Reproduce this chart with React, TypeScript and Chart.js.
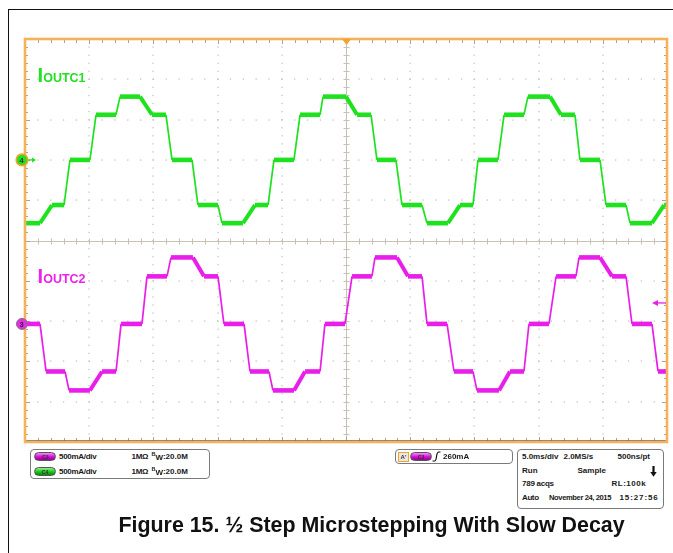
import React, { useEffect, useRef } from "react";
import { Chart, registerables } from "chart.js";

Chart.register(...registerables);

// ---------------- data ----------------
const timeTicksMs = [-25, -20, -15, -10, -5, 0, 5, 10, 15, 20, 25]; // 5.0 ms/div
const divTicks = [-5, -4, -3, -2, -1, 0, 1, 2, 3, 4, 5];
const minorPerDiv = 5;
const mAPerDiv = 500;
const c4PositionDiv = 2.0; // IOUTC1 ground marker "4"
const c3PositionDiv = -2.07; // IOUTC2 ground marker "3"
const triggerLevelmA = 260;

// IOUTC1 (C4, green) corner points
const c4TimeMs = [
  -25.0, -23.83, -22.9, -21.96, -21.5, -19.94, -19.47, -17.91, -17.6, -16.04,
  -15.11, -14.02, -13.55, -11.99, -11.53, -9.97, -9.66, -8.02, -7.09, -6.07,
  -5.61, -4.05, -3.58, -2.02, -1.79, 0.0, 0.86, 1.95, 2.41, 3.89,
  4.36, 5.92, 6.31, 7.94, 8.88, 9.89, 10.28, 11.84, 12.31, 13.86,
  14.17, 15.89, 16.74, 17.83, 18.22, 19.78, 20.25, 21.81, 22.12, 23.83,
  24.77, 25.0,
];
const c4CurrentmA = [
  -785, -785, -560, -560, 0, 0, 560, 560, 785, 785,
  560, 560, 0, 0, -560, -560, -785, -785, -560, -560,
  0, 0, 560, 560, 785, 785, 560, 560, 0, 0,
  -560, -560, -785, -785, -560, -560, 0, 0, 560, 560,
  785, 785, 560, 560, 0, 0, -560, -560, -785, -785,
  -560, -560,
];

// IOUTC2 (C3, magenta) corner points
const c3TimeMs = [
  -25.0, -23.83, -23.36, -21.88, -21.57, -19.94, -19.0, -17.91, -17.52, -15.89,
  -15.5, -13.94, -13.63, -11.92, -11.06, -9.97, -9.51, -7.94, -7.48, -6.0,
  -5.69, -4.05, -3.19, -2.02, -1.64, -0.08, 0.47, 2.02, 2.26, 3.97,
  4.83, 5.92, 6.31, 7.87, 8.41, 9.89, 10.2, 11.92, 12.77, 13.86,
  14.25, 15.81, 16.36, 17.91, 18.15, 19.78, 20.72, 21.81, 22.27, 23.83,
  24.3, 25.0,
];
const c3CurrentmA = [
  0, 0, -590, -590, -825, -825, -590, -590, 0, 0,
  590, 590, 825, 825, 590, 590, 0, 0, -590, -590,
  -825, -825, -590, -590, 0, 0, 590, 590, 825, 825,
  590, 590, 0, 0, -590, -590, -825, -825, -590, -590,
  0, 0, 590, 590, 825, 825, 590, 590, 0, 0,
  -590, -590,
];

// ---------------- layout / style ----------------
const W = 673;
const H = 553;
const PLOT_L = 25;
const PLOT_T = 39;
const PLOT_R = 667;
const PLOT_B = 442;
const FONT = '"Liberation Sans", Arial, Helvetica, sans-serif';
const GREEN = "#1fe21f";
const MAGENTA = "#ea1eea";

const yPix = (div: number) =>
  PLOT_T + ((5 - div) * (PLOT_B - PLOT_T)) / 10;

function line(ctx: CanvasRenderingContext2D, x1: number, y1: number, x2: number, y2: number) {
  ctx.beginPath();
  ctx.moveTo(x1, y1);
  ctx.lineTo(x2, y2);
  ctx.stroke();
}

const scopePlugin = {
  id: "scopeGraticule",
  beforeDatasetsDraw(chart: any) {
    const { ctx, chartArea: a, scales } = chart;
    const xs = scales.x;
    const ys = scales.y;
    const xMinor = (timeTicksMs[1] - timeTicksMs[0]) / minorPerDiv;
    const yMinor = (divTicks[1] - divTicks[0]) / minorPerDiv;
    const xMinorVals: number[] = [];
    for (let i = 0; i <= (timeTicksMs.length - 1) * minorPerDiv; i++)
      xMinorVals.push(timeTicksMs[0] + i * xMinor);
    const yMinorVals: number[] = [];
    for (let i = 0; i <= (divTicks.length - 1) * minorPerDiv; i++)
      yMinorVals.push(divTicks[0] + i * yMinor);

    ctx.save();
    // dotted grid
    ctx.fillStyle = "#c4c4c4";
    timeTicksMs.slice(1, -1).forEach((t) => {
      if (t === 0) return;
      const px = Math.round(xs.getPixelForValue(t));
      yMinorVals.forEach((v) => {
        const py = ys.getPixelForValue(v);
        ctx.fillRect(px - 0.6, py - 0.6, 1.3, 1.3);
      });
    });
    divTicks.slice(1, -1).forEach((d) => {
      if (d === 0) return;
      const py = Math.round(ys.getPixelForValue(d));
      xMinorVals.forEach((t) => {
        const px = xs.getPixelForValue(t);
        ctx.fillRect(px - 0.6, py - 0.6, 1.3, 1.3);
      });
    });

    // centre cross with minor ticks
    const cx = Math.round(xs.getPixelForValue(0)) + 0.5;
    const cy = Math.round(ys.getPixelForValue(0)) + 0.5;
    ctx.strokeStyle = "#c9c1b2";
    ctx.lineWidth = 1;
    line(ctx, cx, a.top, cx, a.bottom);
    line(ctx, a.left, cy, a.right, cy);
    yMinorVals.forEach((v) => {
      const py = Math.round(ys.getPixelForValue(v)) + 0.5;
      line(ctx, cx - 3, py, cx + 3, py);
    });
    xMinorVals.forEach((t) => {
      const px = Math.round(xs.getPixelForValue(t)) + 0.5;
      line(ctx, px, cy - 3, px, cy + 3);
    });

    // border ticks
    ctx.strokeStyle = "#aaa395";
    xMinorVals.forEach((t, i) => {
      const px = Math.round(xs.getPixelForValue(t)) + 0.5;
      const len = i % minorPerDiv === 0 ? 5 : 4;
      line(ctx, px, a.top, px, a.top + len);
      line(ctx, px, a.bottom, px, a.bottom - len);
    });
    yMinorVals.forEach((v, i) => {
      const py = Math.round(ys.getPixelForValue(v)) + 0.5;
      const len = i % minorPerDiv === 0 ? 5 : 3;
      line(ctx, a.left, py, a.left + len, py);
      line(ctx, a.right, py, a.right - len, py);
    });
    ctx.restore();
  },
  afterDatasetsDraw(chart: any) {
    const { ctx, chartArea: a, scales } = chart;
    const xs = scales.x;
    const ys = scales.y;
    ctx.save();
    // dark bottom line + orange frame
    ctx.strokeStyle = "#4a4a4a";
    ctx.lineWidth = 1.2;
    line(ctx, a.left, a.bottom - 1.2, a.right, a.bottom - 1.2);
    ctx.strokeStyle = "#f6b25a";
    ctx.lineWidth = 2.6;
    ctx.strokeRect(a.left, a.top, a.right - a.left, a.bottom - a.top);

    // trigger position marker
    const tx = xs.getPixelForValue(0) + 0.5;
    ctx.fillStyle = "#f5a22a";
    ctx.beginPath();
    ctx.moveTo(tx - 4.5, a.top);
    ctx.lineTo(tx + 4.5, a.top);
    ctx.lineTo(tx, a.top + 6);
    ctx.closePath();
    ctx.fill();

    // ground markers
    const gy4 = ys.getPixelForValue(c4PositionDiv);
    ctx.strokeStyle = GREEN;
    ctx.fillStyle = GREEN;
    ctx.lineWidth = 1.3;
    line(ctx, 27, gy4, 33, gy4);
    ctx.beginPath();
    ctx.moveTo(36, gy4);
    ctx.lineTo(32, gy4 - 2.5);
    ctx.lineTo(32, gy4 + 2.5);
    ctx.closePath();
    ctx.fill();
    ctx.beginPath();
    ctx.arc(22, gy4, 5.8, 0, Math.PI * 2);
    ctx.fillStyle = "#22e022";
    ctx.fill();
    ctx.strokeStyle = "#f5a22a";
    ctx.lineWidth = 1.6;
    ctx.stroke();

    const gy3 = ys.getPixelForValue(c3PositionDiv);
    ctx.strokeStyle = MAGENTA;
    ctx.fillStyle = MAGENTA;
    ctx.lineWidth = 1.2;
    line(ctx, 27, gy3, 37, gy3);
    ctx.beginPath();
    ctx.moveTo(39, gy3);
    ctx.lineTo(35, gy3 - 2.2);
    ctx.lineTo(35, gy3 + 2.2);
    ctx.closePath();
    ctx.fill();
    ctx.beginPath();
    ctx.arc(22, gy3, 5.5, 0, Math.PI * 2);
    ctx.fillStyle = "#e030e0";
    ctx.fill();
    ctx.strokeStyle = "#8a6a8a";
    ctx.lineWidth = 1;
    ctx.stroke();

    // trigger level arrow (C3)
    const ty = ys.getPixelForValue(c3PositionDiv + triggerLevelmA / mAPerDiv);
    ctx.strokeStyle = MAGENTA;
    ctx.fillStyle = MAGENTA;
    ctx.lineWidth = 1.3;
    line(ctx, 657, ty, a.right - 1, ty);
    ctx.beginPath();
    ctx.moveTo(652, ty);
    ctx.lineTo(658, ty - 3);
    ctx.lineTo(658, ty + 3);
    ctx.closePath();
    ctx.fill();
    ctx.restore();
  },
};

const toPoints = (times: number[], mA: number[], pos: number) =>
  times.map((t, i) => ({ x: t, y: pos + mA[i] / mAPerDiv }));

const segWidth = (c: any) => {
  const dx = Math.abs(c.p1.x - c.p0.x);
  const dy = Math.abs(c.p1.y - c.p0.y);
  if (dy > 3 * dx) return 1.7;
  if (dy > 0.5) return 4;
  return 4.6;
};

function Txt(props: {
  x: number;
  y: number;
  size?: number;
  color?: string;
  children: React.ReactNode;
  style?: React.CSSProperties;
}) {
  const size = props.size ?? 8;
  return (
    <div
      style={{
        position: "absolute",
        left: props.x,
        top: props.y - 0.49 * size,
        fontSize: size,
        lineHeight: `${size}px`,
        fontWeight: "bold",
        whiteSpace: "nowrap",
        fontFamily: FONT,
        color: props.color ?? "#1a1a1a",
        ...props.style,
      }}
    >
      {props.children}
    </div>
  );
}

function Pill(props: { x: number; y: number; label: string; kind: "m" | "g" }) {
  const bg =
    props.kind === "m"
      ? "linear-gradient(#f58cf5, #d010d0 55%, #9a009a)"
      : "linear-gradient(#8cf58c, #18c418 55%, #0a8a0a)";
  return (
    <div
      style={{
        position: "absolute",
        left: props.x,
        top: props.y - 4.5,
        width: 22,
        height: 9,
        borderRadius: 5,
        background: bg,
        border: "0.5px solid #555",
        boxSizing: "border-box",
        fontFamily: FONT,
        fontSize: 5,
        fontWeight: "bold",
        lineHeight: "8px",
        textAlign: "center",
        color: "#333",
      }}
    >
      {props.label}
    </div>
  );
}

const boxStyle: React.CSSProperties = {
  position: "absolute",
  border: "1px solid #7a7a7a",
  borderRadius: 4,
  boxSizing: "border-box",
  background: "#fff",
};

const bw = (
  <>
    <span style={{ fontSize: 5.5, position: "relative", top: -2.5 }}>B</span>
    <span style={{ position: "relative", top: 1 }}>W</span>:20.0M
  </>
);

export default function App() {
  const canvasRef = useRef<HTMLCanvasElement | null>(null);

  useEffect(() => {
    if (!canvasRef.current) return;
    const chart = new Chart(canvasRef.current, {
      type: "line",
      data: {
        datasets: [
          {
            label: "IOUTC1",
            data: toPoints(c4TimeMs, c4CurrentmA, c4PositionDiv),
            borderColor: GREEN,
            borderWidth: 4.6,
            pointRadius: 0,
            tension: 0,
            fill: false,
            borderCapStyle: "butt",
            borderJoinStyle: "miter",
            segment: { borderWidth: segWidth },
          },
          {
            label: "IOUTC2",
            data: toPoints(c3TimeMs, c3CurrentmA, c3PositionDiv),
            borderColor: MAGENTA,
            borderWidth: 4.6,
            pointRadius: 0,
            tension: 0,
            fill: false,
            borderCapStyle: "butt",
            borderJoinStyle: "miter",
            segment: { borderWidth: segWidth },
          },
        ],
      },
      options: {
        animation: false,
        responsive: false,
        devicePixelRatio: 1,
        layout: {
          padding: { left: PLOT_L, top: PLOT_T, right: W - PLOT_R, bottom: H - PLOT_B },
        },
        plugins: { legend: { display: false }, tooltip: { enabled: false } },
        events: [],
        scales: {
          x: {
            type: "linear",
            min: timeTicksMs[0],
            max: timeTicksMs[timeTicksMs.length - 1],
            display: false,
          },
          y: {
            type: "linear",
            min: divTicks[0],
            max: divTicks[divTicks.length - 1],
            display: false,
          },
        },
      },
      plugins: [scopePlugin],
    } as any);
    return () => chart.destroy();
  }, []);

  const gy4 = yPix(c4PositionDiv);
  const gy3 = yPix(c3PositionDiv);

  return (
    <div
      style={{
        position: "fixed",
        left: 0,
        top: 0,
        width: W,
        height: H,
        background: "#fff",
        overflow: "hidden",
        fontFamily: FONT,
      }}
    >
      {/* page frame */}
      <div style={{ position: "absolute", left: 8, top: 9, width: W - 8, height: 1, background: "#111" }} />
      <div style={{ position: "absolute", left: 8, top: 9, width: 1, height: H - 9, background: "#111" }} />

      <canvas
        ref={canvasRef}
        width={W}
        height={H}
        style={{ position: "absolute", left: 0, top: 0, width: W, height: H }}
      />

      {/* marker digits */}
      <Txt x={19.6} y={gy4 + 0.3} size={7.5} color="#224422">4</Txt>
      <Txt x={19.8} y={gy3 + 0.3} size={7} color="#3a103a">3</Txt>

      {/* trace labels */}
      <div
        style={{
          position: "absolute",
          left: 37.6,
          top: 64.6,
          fontSize: 20,
          lineHeight: "20px",
          fontWeight: "bold",
          color: "#22e022",
          whiteSpace: "nowrap",
        }}
      >
        I<span style={{ fontSize: 12.5 }}>OUTC1</span>
      </div>
      <div
        style={{
          position: "absolute",
          left: 37.6,
          top: 266.1,
          fontSize: 20,
          lineHeight: "20px",
          fontWeight: "bold",
          color: "#ea22ea",
          whiteSpace: "nowrap",
        }}
      >
        I<span style={{ fontSize: 12.5 }}>OUTC2</span>
      </div>

      {/* channel box */}
      <div style={{ ...boxStyle, left: 30, top: 449, width: 180, height: 30 }} />
      <Pill x={34} y={456.7} label="C3" kind="m" />
      <Txt x={59} y={456.7} style={{ letterSpacing: -0.3 }}>500mA/div</Txt>
      <Txt x={131.5} y={456.7} style={{ letterSpacing: -0.3 }}>1MΩ</Txt>
      <Txt x={151.5} y={456.7}>{bw}</Txt>
      <Pill x={34} y={471.5} label="C4" kind="g" />
      <Txt x={59} y={471.5} style={{ letterSpacing: -0.3 }}>500mA/div</Txt>
      <Txt x={131.5} y={471.5} style={{ letterSpacing: -0.3 }}>1MΩ</Txt>
      <Txt x={151.5} y={471.5}>{bw}</Txt>

      {/* trigger box */}
      <div style={{ ...boxStyle, left: 395, top: 449, width: 118, height: 15 }} />
      <div
        style={{
          position: "absolute",
          left: 398,
          top: 451.5,
          width: 11,
          height: 10,
          boxSizing: "border-box",
          border: "1px solid #f5a22a",
          background: "#e8e8e8",
          fontSize: 6,
          fontWeight: "bold",
          lineHeight: "8px",
          textAlign: "center",
          color: "#333",
        }}
      >
        A'
      </div>
      <Pill x={410} y={456.5} label="C3" kind="m" />
      <svg
        style={{ position: "absolute", left: 432, top: 451 }}
        width={9}
        height={11}
        viewBox="0 0 9 11"
      >
        <path d="M0.5 10 L2.5 10 Q4 10 4.5 5.5 Q5 1 7 1 L8.5 1" stroke="#111" strokeWidth={1.2} fill="none" />
      </svg>
      <Txt x={443} y={456.5}>260mA</Txt>

      {/* acquisition box */}
      <div style={{ ...boxStyle, left: 517, top: 449, width: 147, height: 59.5 }} />
      <Txt x={522} y={456.7}>5.0ms/div</Txt>
      <Txt x={563.5} y={456.7}>2.0MS/s</Txt>
      <Txt x={617.5} y={456.7}>500ns/pt</Txt>
      <Txt x={522} y={471}>Run</Txt>
      <Txt x={577.5} y={471}>Sample</Txt>
      <svg
        style={{ position: "absolute", left: 650, top: 466 }}
        width={7}
        height={11}
        viewBox="0 0 7 11"
      >
        <rect x={2.4} y={0} width={2.2} height={6.5} fill="#111" />
        <path d="M0.3 6 L6.7 6 L3.5 10.8 Z" fill="#111" />
      </svg>
      <Txt x={522} y={483.8} style={{ letterSpacing: -0.25 }}>789 acqs</Txt>
      <Txt x={611.5} y={483.8} style={{ letterSpacing: 0.5 }}>RL:100k</Txt>
      <Txt x={522} y={497.7} style={{ letterSpacing: -0.4 }}>Auto</Txt>
      <Txt x={549} y={497.7} size={7.6} style={{ letterSpacing: -0.4 }}>November 24, 2015</Txt>
      <Txt x={619.5} y={497.7} style={{ letterSpacing: 0.9 }}>15:27:56</Txt>

      {/* figure caption */}
      <div
        style={{
          position: "absolute",
          left: 0,
          width: 743,
          top: 515.2,
          fontSize: 21.4,
          lineHeight: "21.4px",
          fontWeight: "bold",
          textAlign: "center",
          color: "#111",
          whiteSpace: "nowrap",
        }}
      >
        Figure 15. ½ Step Microstepping With Slow Decay
      </div>
    </div>
  );
}
